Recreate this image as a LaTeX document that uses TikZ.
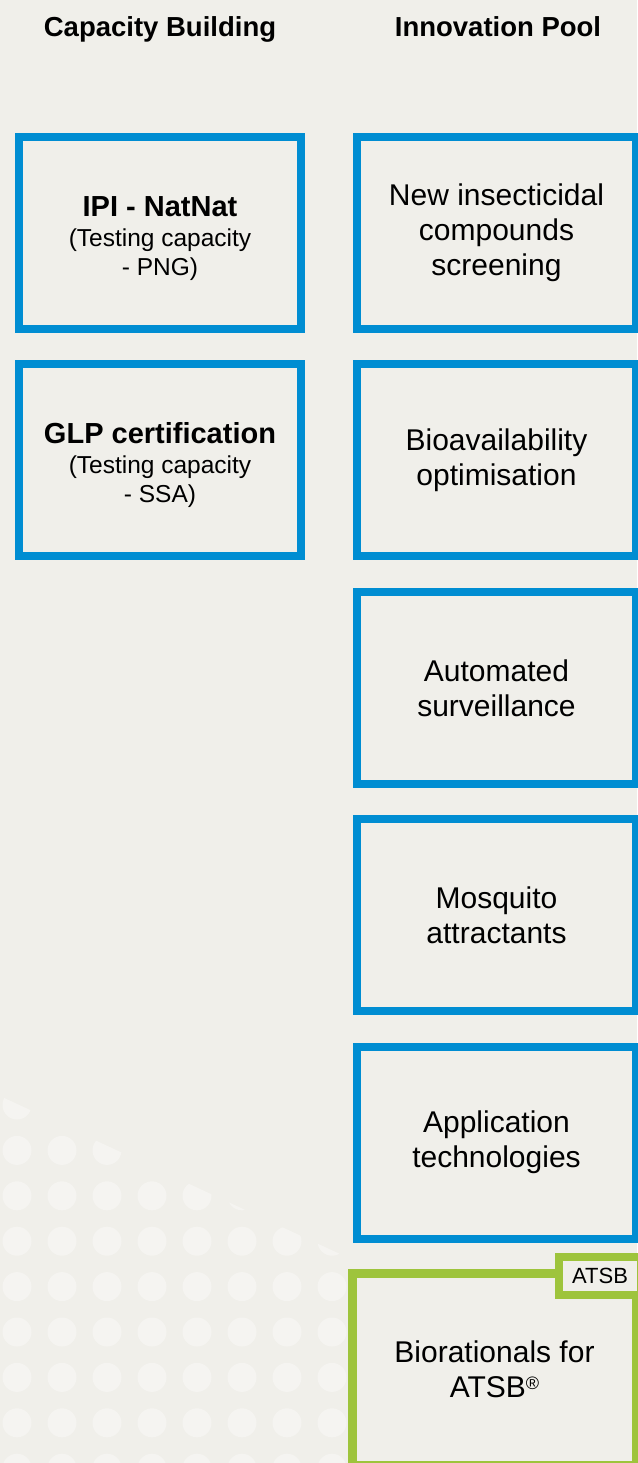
\documentclass[tikz,border=0pt]{standalone}
\usepackage{fontspec}
\setmainfont{Liberation Sans}
\definecolor{bgcol}{HTML}{F0EFEA}
\definecolor{dotcol}{HTML}{F5F4F1}
\definecolor{ivcblue}{HTML}{008DD2}
\definecolor{ivcgreen}{HTML}{9EC43C}
\tikzset{
  colhead/.style={font=\fontsize{27.5}{30}\selectfont\bfseries, anchor=base},
  bluebox/.style={draw=ivcblue, line width=8pt, fill=bgcol, minimum height=192pt, align=center, inner sep=0pt},
  capbox/.style={bluebox, minimum width=282pt, font=\fontsize{24.5}{29}\selectfont},
  innbox/.style={bluebox, minimum width=279pt, font=\fontsize{30}{35}\selectfont},
  biobox/.style={draw=ivcgreen, line width=9pt, fill=bgcol, minimum width=284pt, minimum height=192pt, align=center, inner sep=0pt, font=\fontsize{30}{35}\selectfont},
  tagbox/.style={draw=ivcgreen, line width=8pt, fill=bgcol, minimum width=82pt, minimum height=38pt, inner sep=0pt, font=\fontsize{22}{24}\selectfont}
}
\begin{document}
\begin{tikzpicture}[x=1pt, y=-1pt]
  \def\pitch{227.4} \def\ytop{233}
  \useasboundingbox[fill=bgcol] (0,0) rectangle (637,1463);
  % dotted corner
  \begin{scope}
    \clip (0,1096) -- (340,1254) -- (348,1254) -- (348,1463) -- (0,1463) -- cycle;
    \foreach \i in {0,...,7}
      \foreach \j in {0,...,8}
        \fill[dotcol] ({17+45*\i},{1105+45.4*\j}) circle[radius=14.5];
  \end{scope}
  \node[colhead] (caphead) at (160,37) {Capacity Building};
  \node[colhead] (innhead) at (498,37) {Innovation Pool};
  \node[capbox] (cap1) at (160,\ytop) {\rule{0pt}{31pt}{\fontsize{29}{30}\selectfont\bfseries IPI - NatNat}\\[1pt] (Testing capacity\\ - PNG)};
  \node[capbox] (cap2) at (160,{\ytop+\pitch}) {\rule{0pt}{31pt}{\fontsize{29}{30}\selectfont\bfseries GLP certification}\\[1pt] (Testing capacity\\ - SSA)};
  \foreach \t [count=\i] in {{New insecticidal\\compounds\\screening}, {Bioavailability\\optimisation}, {Automated\\surveillance}, {Mosquito\\attractants}, {Application\\technologies}}
    \node[innbox] (inn\i) at (496.5,{\ytop+\pitch*(\i-1)}) {\t};
  \node[biobox] (bio) at (494.5,1369.5) {Biorationals for\\ATSB{\fontsize{18}{20}\selectfont\raisebox{8pt}{\textregistered}}};
  \node[tagbox] (tag) at (600,1276) {ATSB};
\end{tikzpicture}
\end{document}
